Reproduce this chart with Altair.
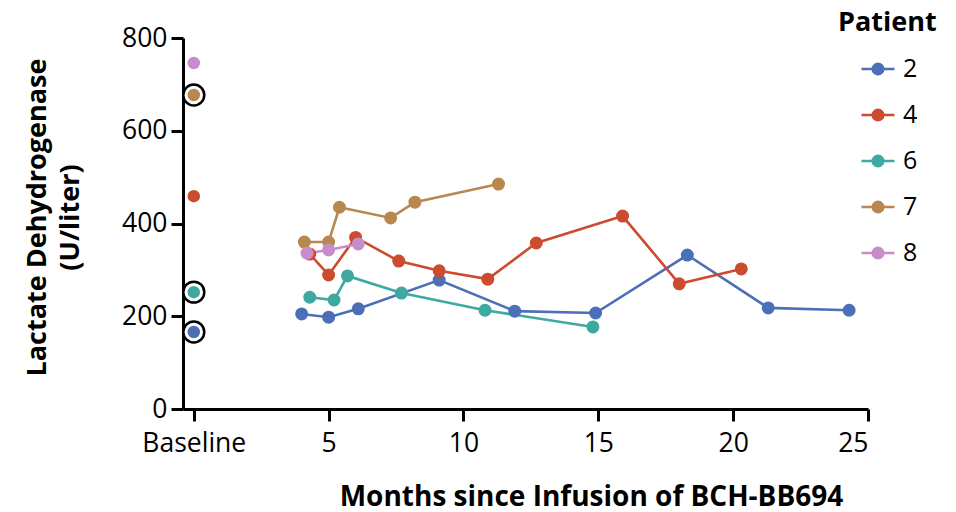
import altair as alt
import pandas as pd

patients = ["2", "4", "6", "7", "8"]
colors = ["#4c6fb6", "#cd4b2f", "#3da9a1", "#b8884f", "#c78dca"]

# follow-up values (months since infusion, LDH U/liter)
months_2 = [4.0, 5.0, 6.1, 9.1, 11.9, 14.9, 18.3, 21.3, 24.3]
ldh_2 = [205, 198, 216, 278, 211, 207, 332, 218, 213]
months_4 = [4.3, 5.0, 6.0, 7.6, 9.1, 10.9, 12.7, 15.9, 18.0, 20.3]
ldh_4 = [334, 289, 370, 319, 298, 280, 358, 416, 270, 302]
months_6 = [4.3, 5.2, 5.7, 7.7, 10.8, 14.8]
ldh_6 = [241, 235, 287, 250, 213, 177]
months_7 = [4.1, 5.0, 5.4, 7.3, 8.2, 11.3]
ldh_7 = [360, 360, 435, 412, 446, 485]
months_8 = [4.2, 5.0, 6.1]
ldh_8 = [336, 343, 356]

# baseline values
baseline_patients = ["2", "4", "6", "7", "8"]
baseline_ldh = [166, 459, 252, 677, 746]
baseline_circled = [True, False, True, True, False]

series = {"2": (months_2, ldh_2), "4": (months_4, ldh_4), "6": (months_6, ldh_6),
          "7": (months_7, ldh_7), "8": (months_8, ldh_8)}
rows = []
for p, (ms, vs) in series.items():
    for m, v in zip(ms, vs):
        rows.append({"Patient": p, "Month": m, "LDH": v})
follow = pd.DataFrame(rows)
base = pd.DataFrame({"Patient": baseline_patients, "Month": [0] * len(baseline_patients),
                     "LDH": baseline_ldh, "Circled": baseline_circled})

FONT = "Open Sans"

xscale = alt.Scale(domain=[-0.4, 25], nice=False, zero=False)
yscale = alt.Scale(domain=[0, 800], nice=False)
cscale = alt.Scale(domain=patients, range=colors)

xax = alt.Axis(values=[0, 5, 10, 15, 20, 25],
               labelExpr="datum.value == 0 ? 'Baseline' : datum.label",
               labelPadding=9,
               title="Months since Infusion of BCH-BB694", titleFontSize=28,
               titleX=408, titleY=96, titleAnchor="middle", titleAlign="center",
               titleBaseline="alphabetic")
yax = alt.Axis(values=[0, 200, 400, 600, 800], labelPadding=4,
               title=["Lactate Dehydrogenase", "(U/liter)"], titleFontSize=27,
               titleLineHeight=33,
               titleX=-159, titleY=179, titleAlign="center", titleBaseline="top",
               titleAngle=270)

X = alt.X("Month:Q", scale=xscale, axis=xax)
Y = alt.Y("LDH:Q", scale=yscale, axis=yax)

legend_path = "M-1,0L1,0M-0.32,0A0.32,0.32,0,1,0,0.32,0A0.32,0.32,0,1,0,-0.32,0Z"


def leg():
    return alt.Legend(
        title="Patient", orient="none", legendX=655, legendY=-28,
        symbolType=legend_path, symbolSize=1089, symbolStrokeWidth=2.5,
        symbolOffset=22, rowPadding=15, labelOffset=7)


F = alt.Fill("Patient:N", scale=cscale, legend=leg())
S = alt.Stroke("Patient:N", scale=cscale, legend=leg())

lines = alt.Chart(follow).mark_line(strokeWidth=2.6).encode(
    x=X, y=Y, stroke=S, detail="Patient:N")

pts = alt.Chart(follow).mark_point(filled=True, size=110, strokeWidth=2.5, opacity=1).encode(
    x=X, y=Y, fill=F, stroke=S)

rings = alt.Chart(base).transform_filter("datum.Circled").mark_point(
    filled=False, size=440, stroke="black", strokeWidth=2.5, fill="white",
    fillOpacity=1, opacity=1).encode(x=X, y=Y)

bpts = alt.Chart(base).mark_point(filled=True, size=100, strokeWidth=2.5, opacity=1).encode(
    x=X, y=Y, fill=F, stroke=S)

chart = alt.layer(lines, pts, rings, bpts).properties(
    width=685, height=371,
    autosize=alt.AutoSizeParams(type="none"),
    padding={"left": 183, "top": 38, "right": 88, "bottom": 103},
).configure_view(stroke=None).configure_axis(
    domainColor="black", domainWidth=3, tickColor="black", tickWidth=3,
    tickSize=12, grid=False, labelFont=FONT, labelFontSize=26.5, labelColor="black",
    titleFont=FONT, titleFontWeight="bold", titleColor="black",
).configure_legend(
    titleFont=FONT, titleFontSize=27, titleFontWeight="bold", titleColor="black",
    labelFont=FONT, labelFontSize=25, labelColor="black", titlePadding=14,
)

chart.save("out.html", embed_options={"renderer": "svg", "actions": False})
